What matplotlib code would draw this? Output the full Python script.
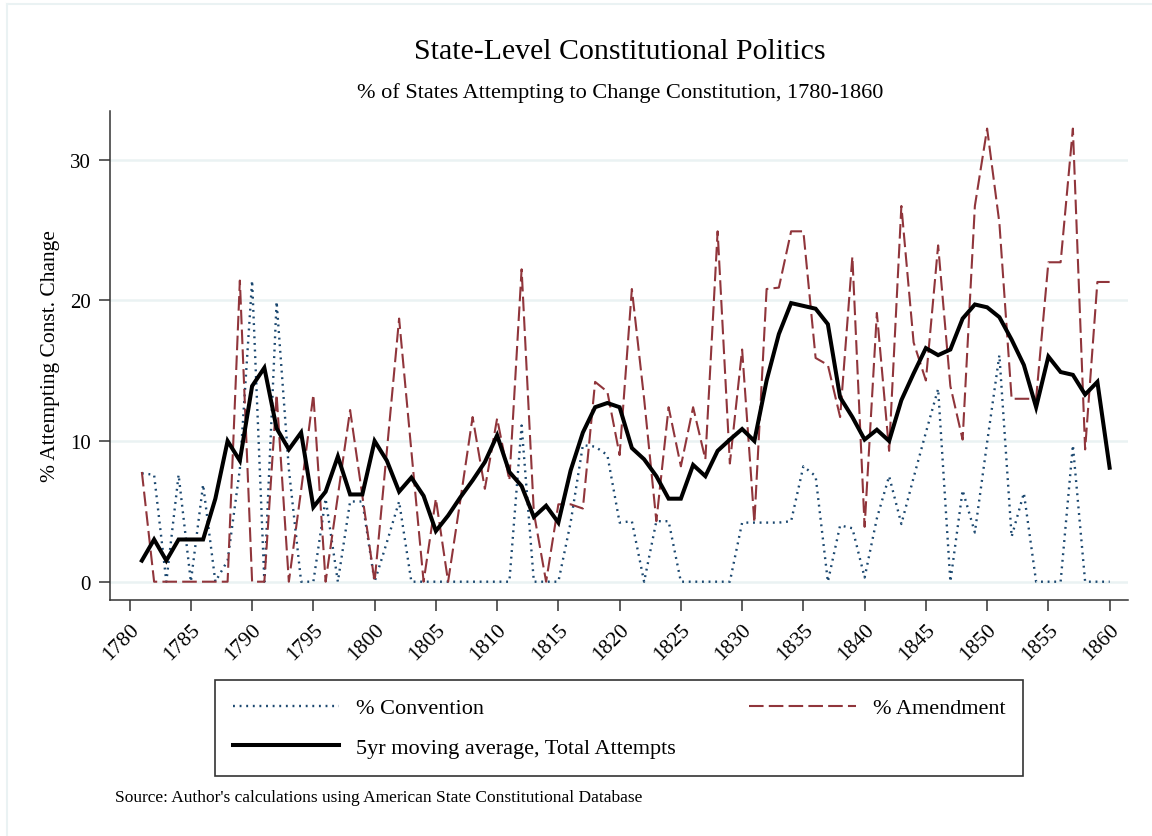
import matplotlib.pyplot as plt
from matplotlib.lines import Line2D

# データ (1781-1860)
years = list(range(1781, 1861))

convention = [
    7.7, 7.6, 0, 7.6, 0, 6.9, 0, 1.5, 8.0, 21.4,
    0, 19.9, 8.0, 0, 0, 5.9, 0, 5.7, 5.7, 0,
    2.8, 5.7, 0, 0, 0, 0, 0, 0, 0, 0,
    0, 11.1, 0, 0, 0, 4.2, 9.7, 9.6, 9.0, 4.2,
    4.3, 0, 4.3, 4.3, 0, 0, 0, 0, 0, 4.2,
    4.2, 4.2, 4.2, 4.3, 8.2, 7.5, 0, 4.0, 3.8, 0.3,
    4.5, 7.5, 4.1, 7.4, 10.6, 13.7, 0, 6.5, 3.5, 9.9,
    16.1, 3.2, 6.3, 0, 0, 0, 9.7, 0, 0, 0,
]

amendment = [
    7.8, 0, 0, 0, 0, 0, 0, 0, 21.4, 0,
    0, 13.3, 0, 6.5, 13.3, 0, 6.1, 12.2, 6.1, 0,
    9.3, 18.7, 9.3, 0, 5.9, 0, 5.8, 11.7, 6.6, 11.6,
    7.2, 22.2, 4.9, 0, 5.5, 5.5, 5.2, 14.2, 13.5, 9.0,
    20.8, 13.0, 4.3, 12.4, 8.2, 12.4, 8.7, 24.9, 8.4, 16.5,
    4.2, 20.8, 20.9, 24.9, 24.9, 15.9, 15.4, 11.7, 23.1, 3.9,
    19.1, 9.3, 26.7, 17.0, 14.3, 23.9, 13.9, 10.1, 26.7, 32.2,
    25.5, 13.0, 13.0, 13.0, 22.7, 22.7, 32.2, 9.4, 21.3, 21.3,
]

moving_avg = [
    1.5, 3.0, 1.5, 3.0, 3.0, 3.0, 5.9, 10.0, 8.6, 13.9,
    15.2, 10.9, 9.4, 10.6, 5.3, 6.4, 8.9, 6.2, 6.2, 10.0,
    8.6, 6.4, 7.4, 6.1, 3.6, 4.7, 6.0, 7.2, 8.5, 10.4,
    7.8, 6.8, 4.6, 5.4, 4.2, 7.9, 10.6, 12.4, 12.7, 12.4,
    9.5, 8.7, 7.5, 5.9, 5.9, 8.3, 7.5, 9.3, 10.1, 10.85,
    10.0, 14.3, 17.6, 19.8, 19.6, 19.4, 18.3, 13.1, 11.7, 10.1,
    10.8, 10.0, 12.9, 14.8, 16.6, 16.1, 16.5, 18.7, 19.7, 19.5,
    18.8, 17.2, 15.4, 12.4, 16.0, 14.9, 14.7, 13.3, 14.2, 8.1,
]

x_ticks = list(range(1780, 1861, 5))
y_ticks = [0, 10, 20, 30]

navy = "#1a476f"
maroon = "#90353b"
grid_col = "#eaf2f3"

plt.rcParams["font.family"] = ["Liberation Serif", "DejaVu Serif"]

fig = plt.figure(figsize=(11.52, 8.37), dpi=100)
ax = fig.add_axes([110 / 1152, 1 - 601 / 837, (1128 - 110) / 1152, (601 - 112) / 837])

for y in y_ticks:
    ax.axhline(y, color=grid_col, lw=1.8, zorder=0)

ax.plot(years, convention, color=navy, lw=1.7, linestyle=(0, (0.8, 2.0)),
        label="% Convention", zorder=2)
ax.plot(years, moving_avg, color="black", lw=2.9, label="5yr moving average, Total Attempts",
        zorder=4, solid_joinstyle="miter")
ax.plot(years, amendment, color=maroon, lw=1.5, linestyle=(0, (7, 2.5)),
        label="% Amendment", zorder=3)

ax.set_xlim(1778.4, 1861.5)
ax.set_ylim(-1.3, 33.45)
ax.set_xticks(x_ticks)
ax.set_xticklabels([str(t) for t in x_ticks], rotation=45, ha="right",
                   rotation_mode="anchor", fontsize=15.5)
ax.set_yticks(y_ticks)
ax.set_yticklabels([str(t) for t in y_ticks], fontsize=15)
ax.tick_params(axis="both", length=8, width=1.1, color="#333333", pad=6)

for side in ["top", "right"]:
    ax.spines[side].set_visible(False)
for side in ["left", "bottom"]:
    ax.spines[side].set_linewidth(1.1)
    ax.spines[side].set_color("#333333")

ax.set_ylabel("% Attempting Const. Change", fontsize=15.5, labelpad=7)

fig.text(620 / 1152, 1 - 52 / 837, "State-Level Constitutional Politics",
         ha="center", va="center", fontsize=21.5)
fig.text(620 / 1152, 1 - 93 / 837, "% of States Attempting to Change Constitution, 1780-1860",
         ha="center", va="center", fontsize=16)
fig.text(115 / 1152, 1 - 798 / 837,
         "Source: Author's calculations using American State Constitutional Database",
         ha="left", va="center", fontsize=12.5)

handles, labels = ax.get_legend_handles_labels()
order = [0, 1, 2]  # 列ごとに並ぶ: convention, moving avg | amendment
leg = fig.legend([handles[i] for i in order], [labels[i] for i in order],
                 loc="upper left", ncol=2, mode="expand", borderaxespad=0,
                 bbox_to_anchor=(215 / 1152, 1 - 682 / 837, (1023 - 215) / 1152, 0.001),
                 fontsize=16, handlelength=4.8, handletextpad=0.75, labelspacing=0.85,
                 borderpad=0.8, columnspacing=1.0, fancybox=False, framealpha=1,
                 edgecolor="#333333")
leg.get_frame().set_linewidth(1.2)

# 外枠 (上と左のみ薄い線)
fig.add_artist(Line2D([7 / 1152, 1], [1 - 5 / 837, 1 - 5 / 837], color=grid_col, lw=1.5))
fig.add_artist(Line2D([7 / 1152, 7 / 1152], [0, 1 - 5 / 837], color=grid_col, lw=1.5))

fig.savefig("out.png", dpi=100)
